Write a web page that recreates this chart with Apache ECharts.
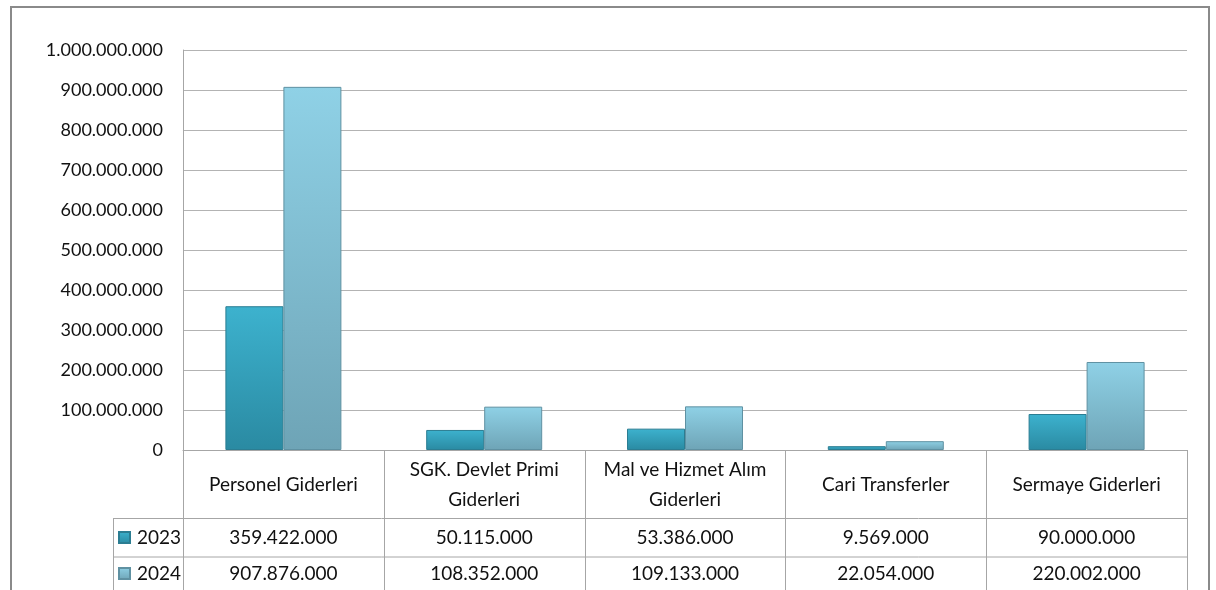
<!DOCTYPE html>
<html>
<head>
<meta charset="utf-8">
<script src="https://cdn.jsdelivr.net/npm/echarts@6/dist/echarts.min.js"></script>
<style>
  html, body { margin: 0; padding: 0; background: #fff; }
  #chart { width: 1216px; height: 590px; }
</style>
</head>
<body>
<div id="chart"></div>
<script>
  // kategori ve seri verileri
  var categories = ['Personel Giderleri', 'SGK. Devlet Primi\nGiderleri', 'Mal ve Hizmet Alım\nGiderleri', 'Cari Transferler', 'Sermaye Giderleri'];
  var years = ['2023', '2024'];
  var values2023 = [359422000, 50115000, 53386000, 9569000, 90000000];
  var values2024 = [907876000, 108352000, 109133000, 22054000, 220002000];
  var yTicks = { min: 0, max: 1000000000, interval: 100000000 };

  var FONT = 'Lato';
  // grid sınırları (piksel)
  var gLeft = 183, gRight = 1187, gTop = 50, gBottom = 450;
  var row1 = 518.5, row2 = 557;

  function fmt(v) {
    return String(v).replace(/\B(?=(\d{3})+(?!\d))/g, '.');
  }

  var color2023 = new echarts.graphic.LinearGradient(0, 0, 0, 1, [
    { offset: 0, color: '#3db2ce' },
    { offset: 1, color: '#2a8aa2' }
  ]);
  var color2024 = new echarts.graphic.LinearGradient(0, 0, 0, 1, [
    { offset: 0, color: '#8fd1e6' },
    { offset: 1, color: '#6ea4b6' }
  ]);

  // tablo çizgileri
  var lineStyle = { stroke: '#a6a6a6', lineWidth: 1 };
  var tableLines = [];
  var colW = (gRight - gLeft) / categories.length;
  for (var i = 0; i <= categories.length; i++) {
    var x = Math.round(gLeft + colW * i) + 0.5;
    tableLines.push({ type: 'line', shape: { x1: x, y1: gBottom, x2: x, y2: 590 }, style: lineStyle, silent: true });
  }
  tableLines.push({ type: 'line', shape: { x1: 113.5, y1: row1, x2: 113.5, y2: 590 }, style: lineStyle, silent: true });
  tableLines.push({ type: 'line', shape: { x1: 113, y1: row1, x2: gRight, y2: row1 }, style: lineStyle, silent: true });
  tableLines.push({ type: 'line', shape: { x1: 113, y1: row2, x2: gRight, y2: row2 }, style: lineStyle, silent: true });
  // dış çerçeve
  tableLines.push({ type: 'rect', shape: { x: 11, y: 7, width: 1198, height: 600 }, style: { fill: 'none', stroke: '#8a8a8a', lineWidth: 2 }, silent: true });

  var valueAxisLabel = function (arr, margin) {
    return {
      type: 'category',
      data: categories,
      position: 'bottom',
      offset: 0,
      axisLine: { show: false },
      axisTick: { show: false },
      axisLabel: {
        margin: margin,
        verticalAlign: 'middle',
        fontFamily: FONT,
        fontSize: 19,
        color: '#111',
        formatter: function (v, idx) { return fmt(arr[idx]); }
      }
    };
  };

  var legendItem = function (name, top) {
    return {
      orient: 'vertical',
      left: 118,
      top: top,
      padding: 0,
      itemWidth: 11,
      itemHeight: 11,
      itemGap: 0,
      icon: 'rect',
      textStyle: { fontFamily: FONT, fontSize: 19, color: '#111', padding: [0, 0, 0, 2] },
      data: [name]
    };
  };

  var myChart = echarts.init(document.getElementById('chart'));
  myChart.setOption({
    animation: false,
    backgroundColor: '#fff',
    grid: {
      left: gLeft,
      right: 1216 - gRight,
      top: gTop,
      bottom: 590 - gBottom,
      containLabel: false
    },
    legend: [legendItem(years[0], 528), legendItem(years[1], 564)],
    xAxis: [
      {
        type: 'category',
        data: categories,
        axisLine: { show: true, lineStyle: { color: '#a6a6a6' } },
        axisTick: { show: false },
        axisLabel: {
          margin: 35,
          verticalAlign: 'middle',
          fontFamily: FONT,
          fontSize: 19,
          lineHeight: 30,
          color: '#111',
          interval: 0
        }
      },
      valueAxisLabel(values2023, 88),
      valueAxisLabel(values2024, 124)
    ],
    yAxis: {
      type: 'value',
      min: yTicks.min,
      max: yTicks.max,
      interval: yTicks.interval,
      axisLine: { show: true, lineStyle: { color: '#a6a6a6' } },
      axisTick: { show: false },
      splitLine: { lineStyle: { color: '#b3b3b3', width: 1 } },
      axisLabel: {
        margin: 20,
        fontFamily: FONT,
        fontSize: 18,
        color: '#111',
        formatter: fmt
      }
    },
    series: [
      {
        name: years[0],
        type: 'bar',
        xAxisIndex: 0,
        data: values2023,
        barWidth: 58,
        barGap: '0%',
        itemStyle: { color: color2023, borderColor: '#2b7d92', borderWidth: 1 }
      },
      {
        name: years[1],
        type: 'bar',
        xAxisIndex: 0,
        data: values2024,
        barWidth: 58,
        barGap: '0%',
        itemStyle: { color: color2024, borderColor: '#5f91a2', borderWidth: 1 }
      }
    ],
    graphic: tableLines
  });
</script>
</body>
</html>
